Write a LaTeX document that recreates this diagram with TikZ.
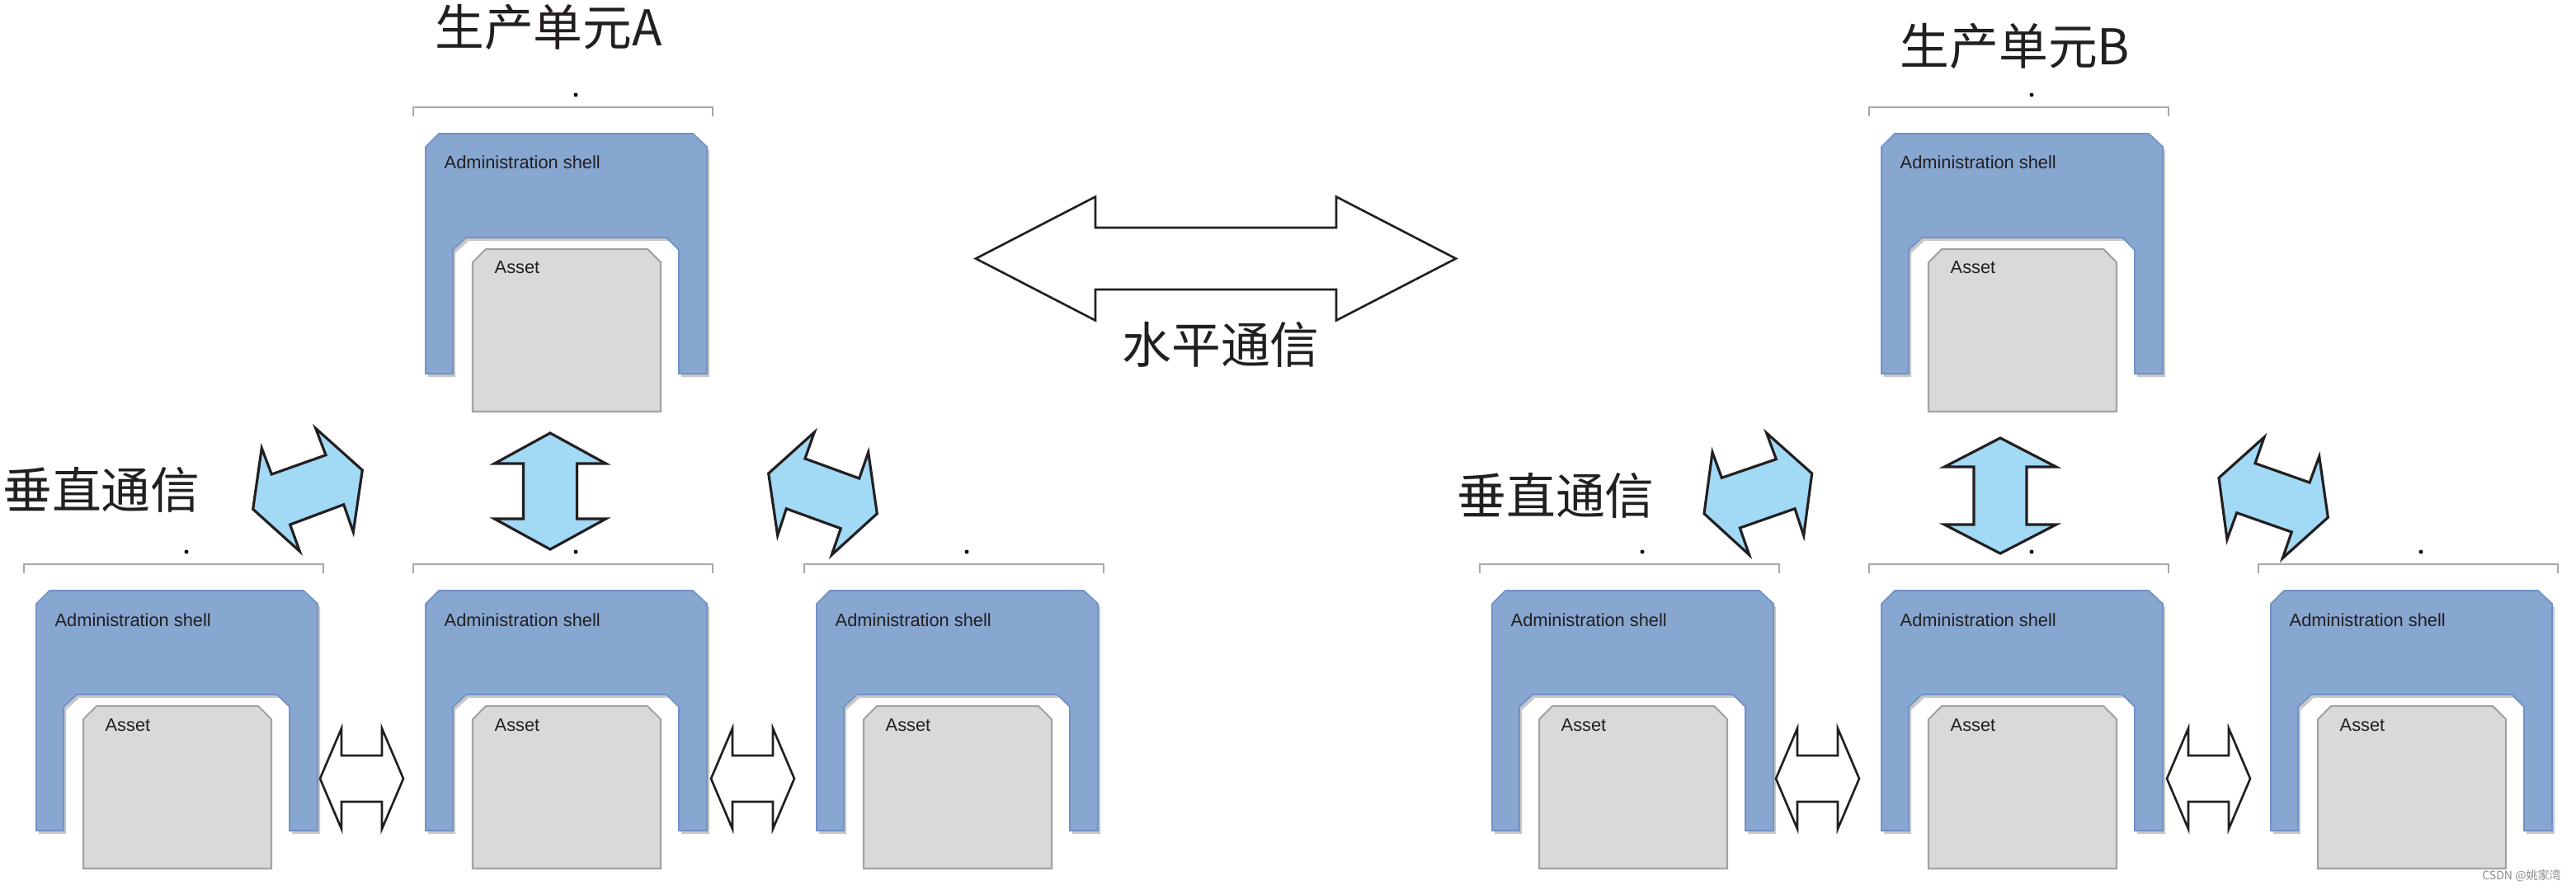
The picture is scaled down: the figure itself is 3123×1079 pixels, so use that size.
\documentclass[tikz,border=0pt]{standalone}
\usepackage{fontspec}
\setmainfont{Liberation Sans}
\newfontfamily\cjk{Noto Sans CJK SC}
\definecolor{shellfill}{HTML}{87A6D0}
\definecolor{shelledge}{HTML}{7192C6}
\definecolor{assetfill}{HTML}{D9D9D9}
\definecolor{assetedge}{HTML}{A3A3A3}
\definecolor{arrowblue}{HTML}{A2D9F5}
\definecolor{arrowedge}{HTML}{231F20}
\definecolor{bracketgray}{HTML}{A8A8A8}
\definecolor{textdark}{HTML}{231F20}
\tikzset{
  shellbox/.style={fill=shellfill, draw=shelledge, line width=0.5pt, line join=miter},
  shellshadow/.style={fill=black, opacity=0.22},
  assetbox/.style={fill=assetfill, draw=assetedge, line width=0.6pt},
  bracketline/.style={draw=bracketgray, line width=0.8pt},
  bluearrow/.style={fill=arrowblue, draw=arrowedge, line width=0.9pt, line join=miter},
  whitearrow/.style={fill=white, draw=arrowedge, line width=0.75pt, line join=miter},
  shelltext/.style={font=\fontsize{6.2pt}{7pt}\selectfont, text=textdark, inner sep=0pt, anchor=base west},
  cjklabel/.style={font=\cjk\fontsize{17pt}{20pt}\selectfont, text=textdark, inner sep=0pt},
}
% production unit: #1,#2 = top-left of shell, #3 = name
\newcommand\produnit[3]{%
  \begin{scope}[shift={(#1,#2)}]
    \fill[shellshadow] (3,20) -- (19,4) -- (327,4) -- (344,20) -- (344,295) -- (310,295) -- (310,145) -- (295,130) -- (52,130) -- (36,145) -- (36,295) -- (3,295) -- cycle;
    \path[shellbox] (0,16) -- (16,0) -- (324,0) -- (341,16) -- (341,291) -- (307,291) -- (307,141) -- (292,126) -- (49,126) -- (33,141) -- (33,291) -- (0,291) -- cycle;
    \path[assetbox] (57,156) -- (73,140) -- (269,140) -- (285,156) -- (285,337) -- (57,337) -- cycle;
    \node[shelltext] (#3-shell) at (22,43) {Administration shell};
    \node[shelltext] (#3-asset) at (83,170) {Asset};
    \draw[bracketline] (-15,-21) -- (-15,-32) -- (348,-32) -- (348,-21);
    \fill[black] (182,-47) circle[radius=0.7pt];
  \end{scope}}
% horizontal double arrow: style, left tip x, right tip x, cy, head length, head half height, shaft half height
\newcommand\hdarrow[7]{%
  \path[#1] (#2,#4) -- ({#2+#5},{#4-#6}) -- ({#2+#5},{#4-#7}) -- ({#3-#5},{#4-#7}) -- ({#3-#5},{#4-#6}) -- (#3,#4) -- ({#3-#5},{#4+#6}) -- ({#3-#5},{#4+#7}) -- ({#2+#5},{#4+#7}) -- ({#2+#5},{#4+#6}) -- cycle;}
% vertical double arrow: style, cx, top y, bottom y, head length, head half width, shaft half width
\newcommand\vdarrow[7]{%
  \path[#1] (#2,#3) -- ({#2+#6},{#3+#5}) -- ({#2+#7},{#3+#5}) -- ({#2+#7},{#4-#5}) -- ({#2+#6},{#4-#5}) -- (#2,#4) -- ({#2-#6},{#4-#5}) -- ({#2-#7},{#4-#5}) -- ({#2-#7},{#3+#5}) -- ({#2-#6},{#3+#5}) -- cycle;}
\begin{document}
\begin{tikzpicture}[x=0.01cm, y=-0.01cm]
\fill[white] (0,0) rectangle (3123,1079);
\useasboundingbox (0,0) rectangle (3123,1079);

% ---------- unit A ----------
\produnit{516}{162}{At}
\produnit{44}{716}{Al}
\produnit{516}{716}{Am}
\produnit{990}{716}{Ar}
\node[cjklabel] (titleA) at (665,33) {生产单元A};
\node[cjklabel] (vertA) at (123,594) {垂直通信};

\vdarrow{bluearrow}{667}{525}{666}{37}{67.5}{32.5}
\path[bluearrow] (317.3,543.3) -- (329.3,575) -- (395,551.7) -- (382.7,519.3) -- (439.3,570) -- (428.3,645) -- (416.7,611.7) -- (351.7,636) -- (363.3,668.3) -- (306.7,617.3) -- cycle;
\path[bluearrow] (987.3,524) -- (976,556) -- (1041.7,580) -- (1052.7,548.3) -- (1063.3,622.7) -- (1008.3,672.7) -- (1019.3,640.7) -- (953.3,616.7) -- (942.7,649) -- (931.7,574) -- cycle;
\hdarrow{whitearrow}{388}{489}{944}{26}{61}{28}
\hdarrow{whitearrow}{862}{963}{944}{26}{61}{28}

% ---------- horizontal communication ----------
\hdarrow{whitearrow}{1183}{1765}{313.5}{145}{75}{37.5}
\node[cjklabel] (horiz) at (1480,418) {水平通信};

% ---------- unit B ----------
\produnit{2281}{162}{Bt}
\produnit{1809}{716}{Bl}
\produnit{2281}{716}{Bm}
\produnit{2753}{716}{Br}
\node[cjklabel] (titleB) at (2443,56) {生产单元B};
\node[cjklabel] (vertB) at (1886,601) {垂直通信};

\vdarrow{bluearrow}{2425}{531}{671}{35}{67.7}{32}
\path[bluearrow] (2076,548.3) -- (2087.3,579.3) -- (2153.3,556.7) -- (2141.7,525) -- (2196.7,574) -- (2186.7,649.3) -- (2176,616.7) -- (2109.3,640) -- (2120.7,672.7) -- (2066,622.7) -- cycle;
\path[bluearrow] (2745,530) -- (2734,561.7) -- (2800,585) -- (2811.7,553.3) -- (2822.3,627.3) -- (2767.3,676.7) -- (2778.3,645) -- (2711.7,621.7) -- (2700,654) -- (2690,579.3) -- cycle;
\hdarrow{whitearrow}{2153}{2254}{944}{26}{61}{28}
\hdarrow{whitearrow}{2627}{2728}{944}{26}{61}{28}

% watermark
\node[font=\cjk\fontsize{4pt}{5pt}\selectfont, text=black!45, inner sep=0pt] (wm) at (3057,1062) {CSDN @姚家湾};
\end{tikzpicture}
\end{document}
